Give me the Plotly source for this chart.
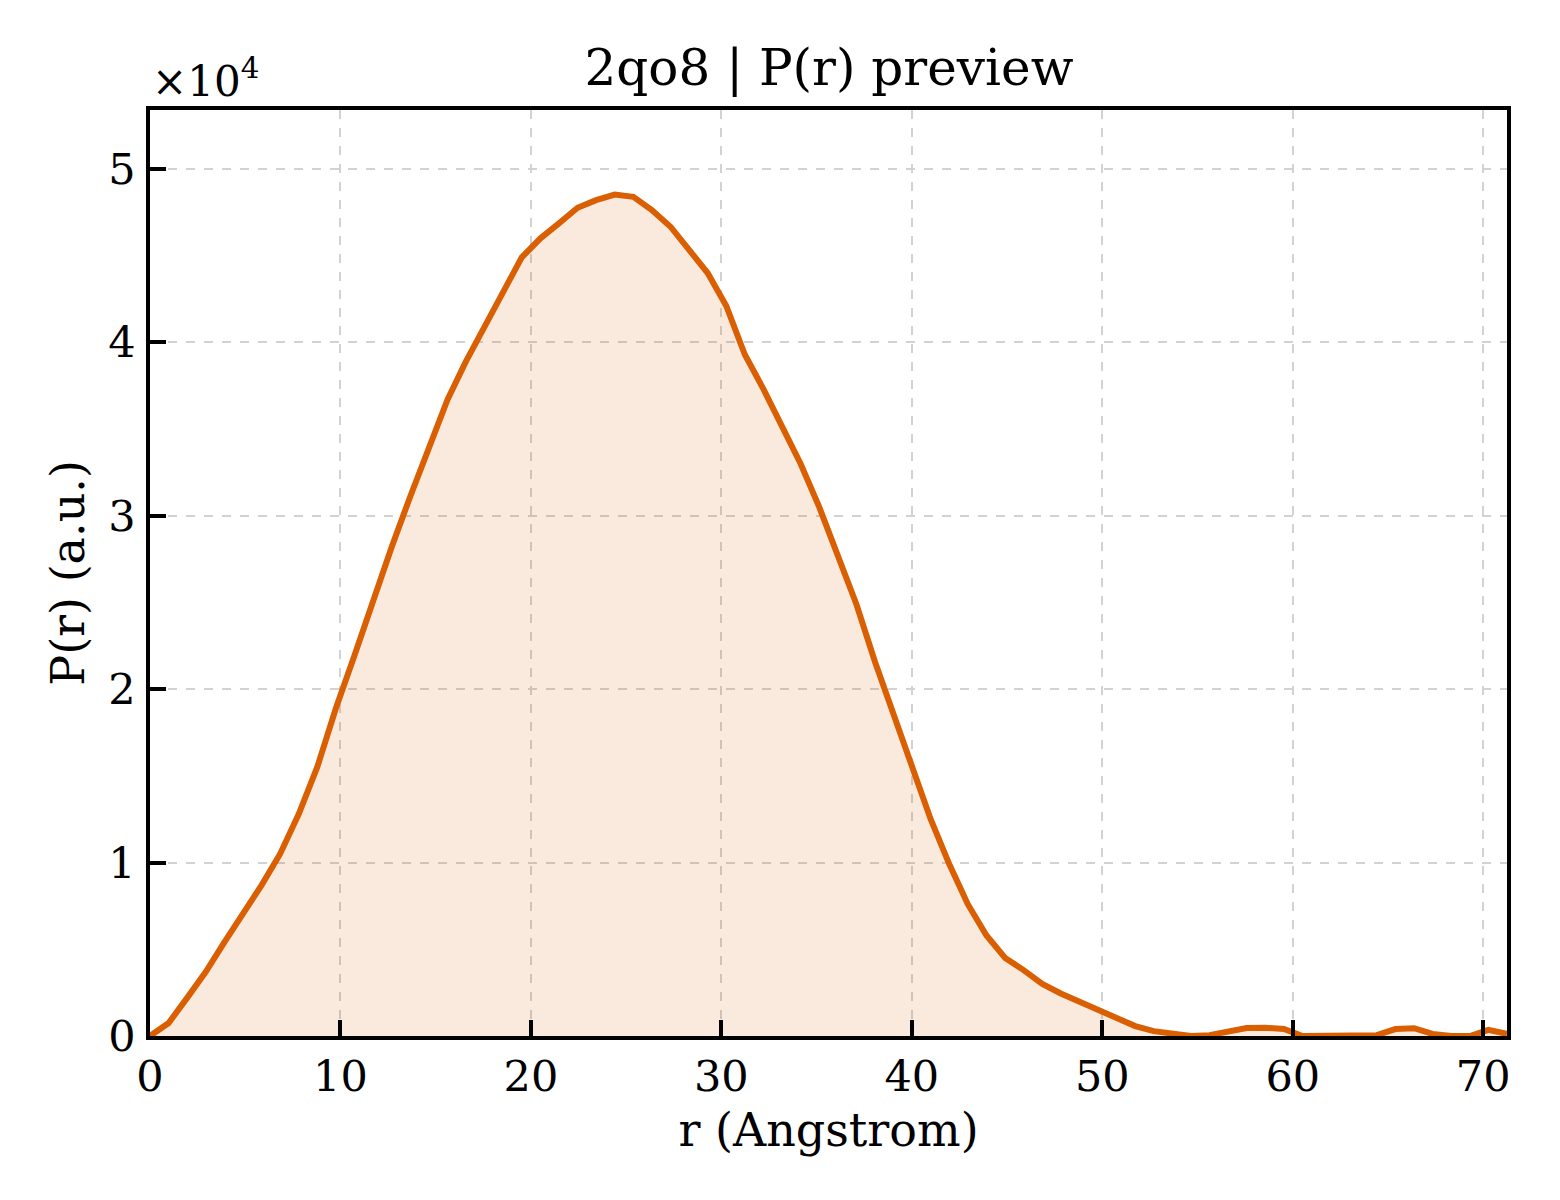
import plotly.graph_objects as go

# r grid (Angstrom) and P(r) values
r_angstrom = [
    0.00, 0.98, 1.95, 2.93, 3.90, 4.88, 5.86, 6.83, 7.81, 8.78,
    9.76, 10.74, 11.71, 12.69, 13.66, 14.64, 15.62, 16.59, 17.57, 18.54,
    19.52, 20.50, 21.47, 22.45, 23.42, 24.40, 25.38, 26.35, 27.33, 28.30,
    29.28, 30.26, 31.23, 32.21, 33.18, 34.16, 35.14, 36.11, 37.09, 38.06,
    39.04, 40.02, 40.99, 41.97, 42.94, 43.92, 44.90, 45.87, 46.85, 47.82,
    48.80, 49.78, 50.75, 51.73, 52.70, 53.68, 54.66, 55.63, 56.61, 57.58,
    58.56, 59.54, 60.51, 61.49, 62.46, 63.44, 64.42, 65.39, 66.37, 67.34,
    68.32, 69.30, 70.27, 71.25,
]
p_r = [
    0, 750, 2200, 3700, 5400, 7000, 8700, 10500, 12800, 15500,
    18900, 21950, 25100, 28200, 31100, 33950, 36700, 38900, 41000, 42900,
    44900, 46000, 46860, 47760, 48200, 48520, 48390, 47630, 46670, 45330,
    44000, 42100, 39300, 37300, 35200, 33000, 30500, 27750, 24900, 21600,
    18500, 15500, 12500, 9900, 7600, 5800, 4500, 3800, 3000, 2450,
    2000, 1550, 1050, 570, 280, 100, 0, 50, 280, 460,
    480, 400, 0, 0, 0, 0, 50, 400, 450, 120,
    0, 0, 350, 120,
]

x_ticks = [0, 10, 20, 30, 40, 50, 60, 70]
y_ticks = [0, 10000, 20000, 30000, 40000, 50000]
y_tick_text = ["0", "1", "2", "3", "4", "5"]

line_color = "#D95F02"
font_family = "DejaVu Serif"

fig = go.Figure()
fig.add_trace(go.Scatter(
    x=r_angstrom, y=p_r, mode="lines",
    line=dict(color=line_color, width=6),
    fill="tozeroy", fillcolor="rgba(217,95,2,0.13)",
    showlegend=False,
))

axis_style = dict(
    showline=True, linecolor="black", linewidth=3.5, mirror=True,
    ticks="inside", ticklen=16, tickwidth=3.5, tickcolor="black",
    showgrid=True, gridcolor="#d2d2d2", gridwidth=1.5, griddash="dash",
    zeroline=False,
    tickfont=dict(family=font_family, size=43, color="black"),
)

fig.update_xaxes(
    range=[0, 71.25], tickvals=x_ticks,
    title=dict(text="r (Angstrom)", font=dict(family=font_family, size=46, color="black"), standoff=14),
    ticklabelstandoff=0,
    **axis_style,
)
fig.update_yaxes(
    range=[0, 53400], tickvals=y_ticks, ticktext=y_tick_text,
    title=dict(text="P(r) (a.u.)", font=dict(family=font_family, size=46, color="black"), standoff=10),
    ticklabelstandoff=2,
    **axis_style,
)

fig.add_annotation(
    text="×10<sup>4</sup>", xref="paper", yref="paper", x=0, y=1.0,
    xanchor="left", yanchor="bottom", yshift=2, showarrow=False,
    font=dict(family=font_family, size=42, color="black"),
)

fig.update_layout(
    width=1552, height=1192,
    margin=dict(l=142, r=53, t=102, b=164),
    paper_bgcolor="white", plot_bgcolor="white",
    title=dict(text="2qo8 | P(r) preview", x=0.529, xanchor="center", y=0.9497, yanchor="middle",
               font=dict(family=font_family, size=50, color="black")),
)

fig.write_html("out.html")
